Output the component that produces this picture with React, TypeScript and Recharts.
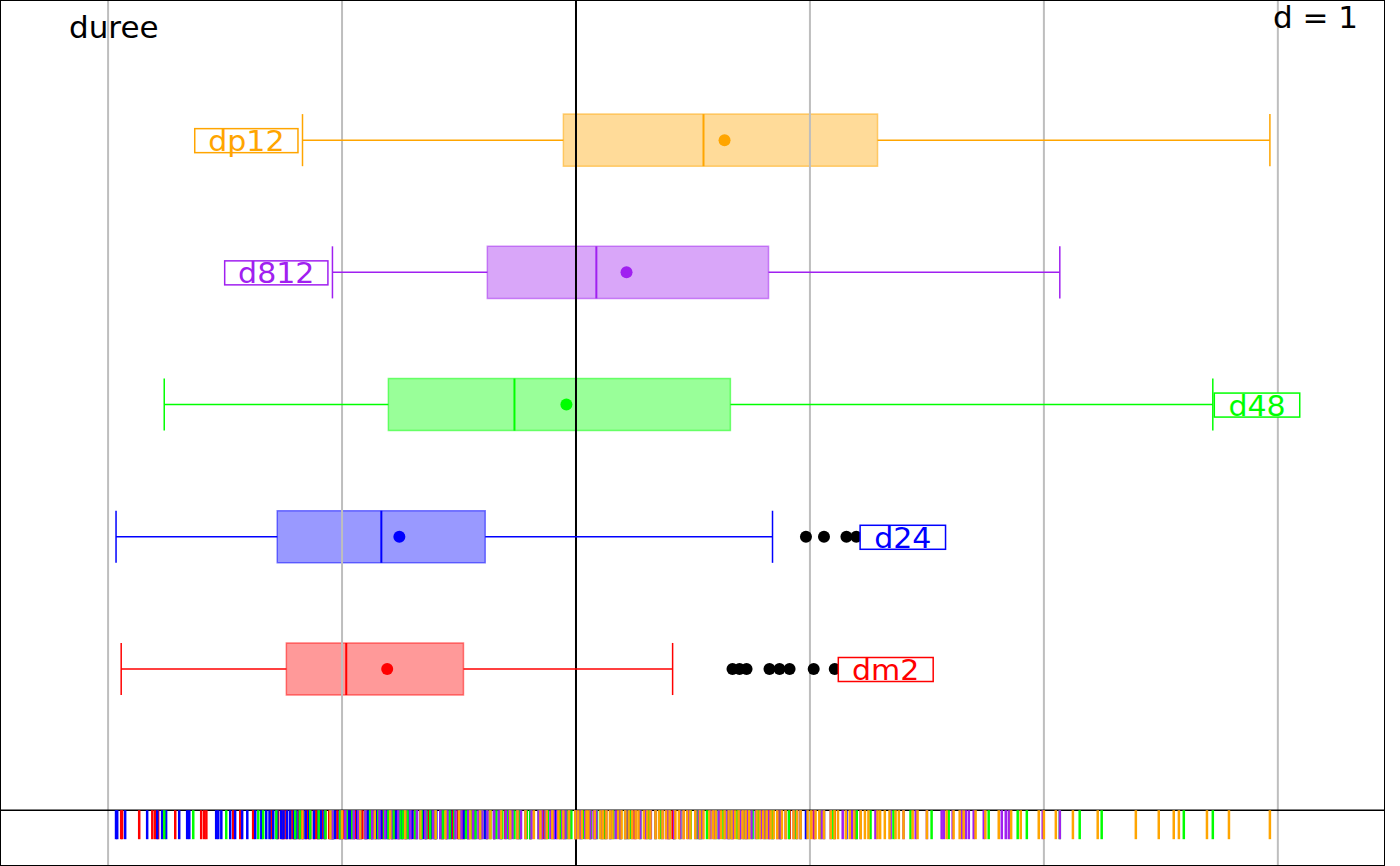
import React from 'react';
import {
  ComposedChart,
  XAxis,
  YAxis,
  Scatter,
  ReferenceLine,
  ReferenceArea,
} from 'recharts';

document.body.style.margin = '0';

// groupes (de bas en haut)
const groups = ['dm2', 'd24', 'd48', 'd812', 'dp12'];
const rows = [1, 2, 3, 4, 5];
const colors = ['#ff0000', '#0000ff', '#00ff00', '#a020f0', '#ffa500'];

// statistiques des boîtes
const whiskerLow = [-1.944, -1.966, -1.76, -1.041, -1.169];
const q1 = [-1.238, -1.277, -0.802, -0.379, -0.054];
const medians = [-0.982, -0.832, -0.263, 0.087, 0.545];
const means = [-0.807, -0.755, -0.041, 0.216, 0.635];
const q3 = [-0.481, -0.388, 0.66, 0.823, 1.289];
const whiskerHigh = [0.413, 0.84, 2.722, 2.068, 2.966];
const labelX = [1.324, 1.397, 2.911, -1.281, -1.409];

const outliersDm2 = [0.669, 0.699, 0.729, 0.827, 0.87, 0.913, 1.016, 1.106];
const outliersD24 = [0.983, 1.06, 1.156, 1.198];

// valeurs du rug
const rugDm2 = [
  -1.944, -1.94, -1.867, -1.811, -1.799, -1.786, -1.713, -1.602, -1.589, -1.58,
  -1.465, -1.435, -1.38, -1.303, -1.273, -1.255, -1.25, -1.238, -1.22, -1.21,
  -1.2, -1.185, -1.17, -1.155, -1.145, -1.136, -1.12, -1.11, -1.101, -1.085,
  -1.071, -1.055, -1.045, -1.037, -1.02, -1.008, -0.995, -0.982, -0.97, -0.96,
  -0.943, -0.93, -0.92, -0.913, -0.895, -0.88, -0.871, -0.855, -0.84, -0.824,
  -0.8, -0.785, -0.772, -0.755, -0.74, -0.725, -0.708, -0.69, -0.665, -0.644,
  -0.63, -0.62, -0.6, -0.58, -0.57, -0.555, -0.528, -0.505, -0.49, -0.481, -0.46,
  -0.44, -0.409, -0.38, -0.35, -0.302, -0.25, -0.195, -0.14, -0.067, 0.0, 0.062,
  0.12, 0.19, 0.25, 0.297, 0.395, 0.413, 0.669, 0.699, 0.729, 0.827, 0.87, 0.913,
  1.016, 1.106,
];
const rugD24 = [
  -1.966, -1.961, -1.927, -1.833, -1.79, -1.769, -1.752, -1.696, -1.662, -1.653,
  -1.538, -1.529, -1.516, -1.478, -1.457, -1.427, -1.405, -1.371, -1.345, -1.324,
  -1.31, -1.294, -1.277, -1.26, -1.25, -1.235, -1.222, -1.205, -1.195, -1.18,
  -1.166, -1.155, -1.14, -1.12, -1.101, -1.09, -1.075, -1.05, -1.04, -1.03,
  -1.01, -0.986, -0.975, -0.965, -0.95, -0.935, -0.922, -0.9, -0.89, -0.871,
  -0.86, -0.85, -0.832, -0.81, -0.8, -0.785, -0.77, -0.76, -0.745, -0.729,
  -0.715, -0.7, -0.68, -0.665, -0.655, -0.64, -0.62, -0.605, -0.597, -0.57,
  -0.55, -0.537, -0.52, -0.5, -0.48, -0.46, -0.43, -0.41, -0.388, -0.35, -0.32,
  -0.281, -0.24, -0.195, -0.15, -0.088, -0.05, 0.019, 0.08, 0.147, 0.22, 0.318,
  0.42, 0.532, 0.65, 0.84, 0.983, 1.06, 1.156, 1.198,
];
const rugD48 = [
  -1.76, -1.636, -1.495, -1.358, -1.337, -1.281, -1.2, -1.18, -1.136, -1.1,
  -1.071, -1.04, -1.008, -0.98, -0.956, -0.93, -0.901, -0.88, -0.845, -0.82,
  -0.802, -0.78, -0.751, -0.74, -0.72, -0.687, -0.66, -0.64, -0.623, -0.6, -0.57,
  -0.558, -0.54, -0.52, -0.494, -0.47, -0.45, -0.43, -0.4, -0.38, -0.366, -0.34,
  -0.315, -0.29, -0.263, -0.24, -0.21, -0.195, -0.16, -0.131, -0.12, -0.1,
  -0.067, -0.04, -0.02, -0.003, 0.03, 0.062, 0.09, 0.11, 0.126, 0.16, 0.19, 0.21,
  0.23, 0.275, 0.31, 0.34, 0.361, 0.4, 0.42, 0.446, 0.49, 0.52, 0.532, 0.56,
  0.597, 0.61, 0.63, 0.66, 0.69, 0.7, 0.72, 0.74, 0.755, 0.777, 0.81, 0.84,
  0.875, 0.91, 0.94, 0.96, 1.045, 1.1, 1.2, 1.259, 1.357, 1.43, 1.52, 1.593,
  1.764, 1.888, 1.927, 2.068, 2.153, 2.247, 2.598, 2.722,
];
const rugD812 = [
  -1.041, -1.0, -0.986, -0.95, -0.93, -0.9, -0.871, -0.84, -0.815, -0.79, -0.76,
  -0.73, -0.708, -0.68, -0.644, -0.61, -0.58, -0.55, -0.515, -0.49, -0.46, -0.44,
  -0.417, -0.4, -0.379, -0.35, -0.33, -0.323, -0.3, -0.285, -0.272, -0.25,
  -0.235, -0.216, -0.19, -0.16, -0.145, -0.13, -0.109, -0.095, -0.08, -0.058,
  -0.045, -0.03, -0.003, 0.0, 0.02, 0.04, 0.06, 0.075, 0.087, 0.11, 0.13, 0.147,
  0.17, 0.19, 0.211, 0.24, 0.255, 0.275, 0.3, 0.32, 0.34, 0.37, 0.385, 0.395,
  0.42, 0.446, 0.46, 0.48, 0.511, 0.525, 0.54, 0.575, 0.59, 0.61, 0.639, 0.655,
  0.67, 0.703, 0.715, 0.73, 0.75, 0.768, 0.79, 0.805, 0.823, 0.86, 0.875, 0.896,
  0.93, 0.945, 0.96, 1.02, 1.05, 1.089, 1.14, 1.18, 1.217, 1.28, 1.345, 1.4,
  1.452, 1.5, 1.563, 1.572, 1.61, 1.649, 1.666, 1.679, 1.7, 1.743, 1.82, 1.837,
  1.85, 1.995, 2.068,
];
const rugDp12 = [
  -1.169, -1.05, -1.0, -0.922, -0.86, -0.794, -0.73, -0.665, -0.6, -0.558, -0.5,
  -0.452, -0.41, -0.366, -0.32, -0.281, -0.25, -0.216, -0.18, -0.152, -0.125,
  -0.101, -0.075, -0.054, -0.03, -0.003, 0.01, 0.025, 0.045, 0.053, 0.08, 0.104,
  0.115, 0.13, 0.145, 0.156, 0.18, 0.195, 0.211, 0.225, 0.24, 0.255, 0.267, 0.29,
  0.305, 0.318, 0.34, 0.355, 0.37, 0.385, 0.4, 0.425, 0.44, 0.46, 0.475, 0.489,
  0.51, 0.53, 0.545, 0.57, 0.585, 0.597, 0.62, 0.635, 0.652, 0.665, 0.68, 0.695,
  0.712, 0.725, 0.74, 0.772, 0.785, 0.8, 0.815, 0.832, 0.845, 0.86, 0.88, 0.896,
  0.93, 0.945, 0.96, 0.99, 1.005, 1.024, 1.04, 1.06, 1.089, 1.105, 1.12, 1.153,
  1.17, 1.19, 1.217, 1.235, 1.25, 1.289, 1.3, 1.32, 1.34, 1.366, 1.38, 1.4, 1.439,
  1.46, 1.5, 1.584, 1.614, 1.64, 1.657, 1.708, 1.75, 1.807, 1.86, 1.901, 1.978,
  2.0, 2.051, 2.124, 2.23, 2.393, 2.491, 2.555, 2.577, 2.697, 2.791, 2.966,
];
const rugs = [rugDm2, rugD24, rugD48, rugD812, rugDp12];

const gridX = [-2, -1, 1, 2, 3];

const X_DOMAIN: [number, number] = [-2.462, 3.458];
const Y_DOMAIN: [number, number] = [-0.49, 6.06];
const RUG_Y = -0.068;
const HALF = 0.197;
const FONT = '"DejaVu Sans", sans-serif';

const charWidth = (c: string) => (c === 'm' ? 0.974 : 0.636);

const App: React.FC = () => {
  const W = 1385;
  const H = 866;

  return (
    <div style={{ position: 'relative', width: W, height: H, fontFamily: FONT }}>
      <ComposedChart width={W} height={H} margin={{ top: 0, right: 0, bottom: 0, left: 0 }}>
        <XAxis type="number" dataKey="x" domain={X_DOMAIN} hide allowDataOverflow />
        <YAxis type="number" dataKey="y" domain={Y_DOMAIN} hide allowDataOverflow />

        {gridX.map((g) => (
          <ReferenceLine key={'g' + g} x={g} stroke="#bebebe" strokeWidth={2} />
        ))}
        <ReferenceLine x={0} stroke="#000" strokeWidth={2} />
        <ReferenceLine y={RUG_Y} stroke="#000" strokeWidth={1.5} />

        {rugs.map((r, i) => (
          <Scatter
            key={'rug' + i}
            data={r.map((v) => ({ x: v, y: RUG_Y }))}
            isAnimationActive={false}
            shape={(p: any) => (
              <line x1={p.cx} x2={p.cx} y1={p.cy} y2={p.cy + 29} stroke={colors[i]} strokeWidth={2.5} />
            )}
          />
        ))}

        {groups.map((g, i) => (
          <ReferenceArea
            key={'box' + g}
            x1={q1[i]}
            x2={q3[i]}
            y1={rows[i] - HALF}
            y2={rows[i] + HALF}
            fill={colors[i]}
            fillOpacity={0.4}
            stroke={colors[i]}
            strokeOpacity={0.5}
            strokeWidth={1.5}
          />
        ))}

        {groups.map((g, i) => (
          <ReferenceLine
            key={'wl' + g}
            segment={[{ x: whiskerLow[i], y: rows[i] }, { x: q1[i], y: rows[i] }]}
            stroke={colors[i]}
            strokeWidth={1.5}
          />
        ))}
        {groups.map((g, i) => (
          <ReferenceLine
            key={'wh' + g}
            segment={[{ x: q3[i], y: rows[i] }, { x: whiskerHigh[i], y: rows[i] }]}
            stroke={colors[i]}
            strokeWidth={1.5}
          />
        ))}
        {groups.map((g, i) =>
          [whiskerLow[i], whiskerHigh[i], medians[i]].map((v, k) => (
            <ReferenceLine
              key={'cap' + g + k}
              segment={[{ x: v, y: rows[i] - HALF }, { x: v, y: rows[i] + HALF }]}
              stroke={colors[i]}
              strokeWidth={k === 2 ? 2 : 1.5}
            />
          ))
        )}

        {groups.map((g, i) => (
          <Scatter
            key={'mean' + g}
            data={[{ x: means[i], y: rows[i] }]}
            isAnimationActive={false}
            shape={(p: any) => <circle cx={p.cx} cy={p.cy} r={6} fill={colors[i]} />}
          />
        ))}

        <Scatter
          data={outliersDm2.map((v) => ({ x: v, y: rows[0] }))}
          isAnimationActive={false}
          shape={(p: any) => <circle cx={p.cx} cy={p.cy} r={6} fill="#000" />}
        />
        <Scatter
          data={outliersD24.map((v) => ({ x: v, y: rows[1] }))}
          isAnimationActive={false}
          shape={(p: any) => <circle cx={p.cx} cy={p.cy} r={6} fill="#000" />}
        />

        {groups.map((g, i) => (
          <Scatter
            key={'lab' + g}
            data={[{ x: labelX[i], y: rows[i], name: g }]}
            isAnimationActive={false}
            shape={(p: any) => {
              const em = g.split('').reduce((s, c) => s + charWidth(c), 0);
              const bw = em * 28 + 32;
              return (
                <g>
                  <rect
                    x={p.cx - bw / 2}
                    y={p.cy - 11.5}
                    width={bw}
                    height={24}
                    fill="#fff"
                    stroke={colors[i]}
                    strokeWidth={1.5}
                  />
                  <text
                    x={p.cx}
                    y={p.cy + 11}
                    textAnchor="middle"
                    fontSize={28}
                    fontFamily={FONT}
                    fill={colors[i]}
                    textLength={em * 30}
                    lengthAdjust="spacingAndGlyphs"
                  >
                    {g}
                  </text>
                </g>
              );
            }}
          />
        ))}
      </ComposedChart>

      <div style={{ position: 'absolute', left: 69, top: 8, fontSize: 31, lineHeight: '38px', color: '#000' }}>
        duree
      </div>
      <div style={{ position: 'absolute', right: 27, top: -2, fontSize: 31, lineHeight: '38px', color: '#000' }}>
        d = 1
      </div>
      <div
        style={{
          position: 'absolute',
          left: 0,
          top: 0,
          width: W,
          height: H,
          border: '1.5px solid #000',
          boxSizing: 'border-box',
          pointerEvents: 'none',
        }}
      />
    </div>
  );
};

export default App;
